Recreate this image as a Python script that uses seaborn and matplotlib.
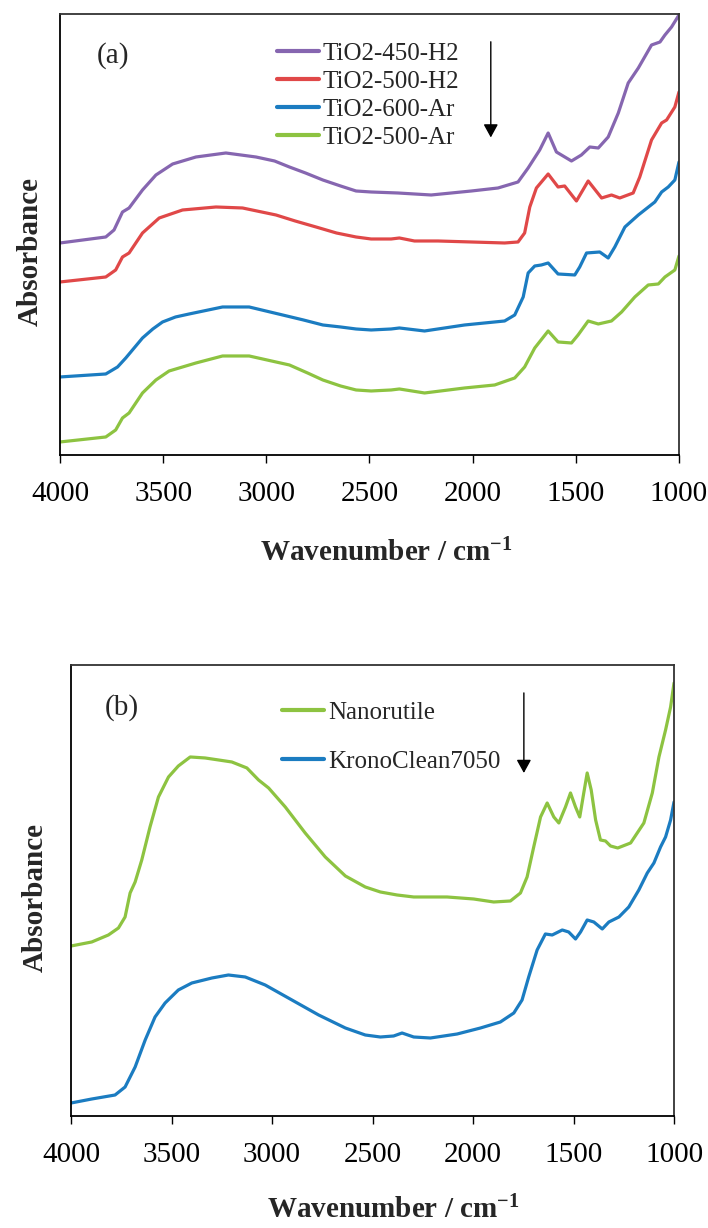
import matplotlib
matplotlib.use("Agg")
import matplotlib.pyplot as plt
import numpy as np
import pandas as pd
import seaborn as sns

# ---------------- panel (a): TiO2 samples ----------------
wn_450_h2 = [4000, 3778, 3738, 3697, 3665, 3600, 3535, 3454, 3341, 3196, 3050, 2960, 2888,
             2810, 2726, 2640, 2565, 2492, 2362, 2201, 2006, 1877, 1780, 1731, 1675, 1634,
             1594, 1521, 1473, 1432, 1391, 1343, 1294, 1246, 1197, 1133, 1092, 1068, 1036,
             1000]
abs_450_h2 = [2.12, 2.18, 2.25, 2.43, 2.47, 2.65, 2.80, 2.91, 2.98, 3.02, 2.98, 2.94, 2.88,
              2.82, 2.75, 2.69, 2.64, 2.63, 2.62, 2.60, 2.64, 2.67, 2.73, 2.87, 3.05, 3.22,
              3.03, 2.94, 3.00, 3.08, 3.07, 3.18, 3.42, 3.72, 3.87, 4.10, 4.13, 4.20, 4.28,
              4.40]

wn_500_h2 = [4000, 3778, 3730, 3697, 3665, 3600, 3519, 3406, 3244, 3115, 2953, 2860, 2759,
             2660, 2565, 2492, 2395, 2355, 2282, 2168, 2006, 1845, 1780, 1748, 1723, 1691,
             1634, 1586, 1554, 1497, 1440, 1375, 1327, 1287, 1222, 1190, 1133, 1084, 1060,
             1020, 1000]
abs_500_h2 = [1.73, 1.78, 1.85, 1.98, 2.02, 2.22, 2.37, 2.45, 2.48, 2.47, 2.40, 2.34, 2.28,
              2.22, 2.18, 2.16, 2.16, 2.17, 2.14, 2.14, 2.13, 2.12, 2.13, 2.22, 2.48, 2.67,
              2.81, 2.68, 2.69, 2.54, 2.74, 2.57, 2.60, 2.57, 2.62, 2.78, 3.15, 3.32, 3.35,
              3.48, 3.63]

wn_600_ar = [4000, 3778, 3721, 3681, 3600, 3550, 3503, 3440, 3374, 3212, 3083, 2921, 2820,
             2726, 2640, 2565, 2492, 2395, 2355, 2233, 2039, 1845, 1796, 1755, 1731, 1699,
             1667, 1634, 1586, 1505, 1481, 1448, 1384, 1343, 1311, 1262, 1197, 1117, 1084,
             1052, 1020, 1000]
abs_600_ar = [0.78, 0.81, 0.88, 0.97, 1.17, 1.26, 1.33, 1.38, 1.41, 1.48, 1.48, 1.40, 1.35,
              1.30, 1.28, 1.26, 1.25, 1.26, 1.27, 1.24, 1.30, 1.34, 1.40, 1.58, 1.82, 1.89,
              1.90, 1.92, 1.81, 1.80, 1.88, 2.02, 2.03, 1.97, 2.08, 2.28, 2.40, 2.53, 2.63,
              2.68, 2.75, 2.93]

wn_500_ar = [4000, 3778, 3730, 3697, 3665, 3600, 3535, 3471, 3341, 3212, 3083, 2888, 2800,
             2726, 2640, 2565, 2492, 2395, 2355, 2233, 2039, 1893, 1796, 1748, 1699, 1634,
             1586, 1521, 1489, 1440, 1391, 1327, 1278, 1214, 1149, 1100, 1068, 1020, 1000]
abs_500_ar = [0.13, 0.18, 0.25, 0.37, 0.42, 0.62, 0.75, 0.84, 0.92, 0.99, 0.99, 0.90, 0.82,
              0.75, 0.69, 0.65, 0.64, 0.65, 0.66, 0.62, 0.67, 0.70, 0.77, 0.88, 1.07, 1.24,
              1.13, 1.12, 1.20, 1.34, 1.31, 1.34, 1.43, 1.58, 1.70, 1.71, 1.78, 1.85, 1.99]

labels_a = ["TiO2-450-H2", "TiO2-500-H2", "TiO2-600-Ar", "TiO2-500-Ar"]
colors_a = ["#8666B0", "#E04848", "#1B7CC1", "#8DC341"]

# ---------------- panel (b): commercial powders ----------------
wn_nanorutile = [4000, 3897, 3814, 3764, 3731, 3706, 3681, 3648, 3607, 3565, 3515, 3466, 3407,
                 3333, 3266, 3200, 3125, 3067, 3017, 2934, 2835, 2735, 2635, 2536, 2461, 2378,
                 2295, 2129, 1997, 1897, 1814, 1764, 1731, 1698, 1664, 1631, 1598, 1573, 1540,
                 1515, 1490, 1469, 1449, 1432, 1412, 1390, 1366, 1341, 1316, 1280, 1216, 1150,
                 1108, 1075, 1042, 1017, 1000]
abs_nanorutile = [1.70, 1.74, 1.81, 1.88, 1.99, 2.23, 2.34, 2.56, 2.89, 3.19, 3.39, 3.50, 3.59,
                  3.58, 3.56, 3.54, 3.48, 3.36, 3.28, 3.09, 2.83, 2.59, 2.40, 2.29, 2.24, 2.21,
                  2.19, 2.19, 2.17, 2.14, 2.15, 2.23, 2.39, 2.69, 2.99, 3.13, 2.99, 2.93, 3.09,
                  3.23, 3.09, 2.99, 3.23, 3.43, 3.26, 2.96, 2.76, 2.75, 2.70, 2.68, 2.73, 2.93,
                  3.23, 3.59, 3.86, 4.09, 4.33]

wn_krono = [4000, 3897, 3781, 3731, 3681, 3631, 3582, 3532, 3466, 3399, 3299, 3217, 3133,
            3034, 2901, 2768, 2635, 2536, 2461, 2395, 2353, 2295, 2212, 2079, 1963, 1864,
            1797, 1756, 1723, 1681, 1640, 1606, 1556, 1524, 1490, 1465, 1432, 1399, 1357,
            1324, 1274, 1225, 1175, 1133, 1100, 1067, 1042, 1017, 1000]
abs_krono = [0.13, 0.17, 0.21, 0.29, 0.49, 0.76, 0.99, 1.13, 1.26, 1.33, 1.38, 1.41, 1.39,
             1.31, 1.16, 1.01, 0.88, 0.81, 0.79, 0.80, 0.83, 0.79, 0.78, 0.82, 0.88, 0.94,
             1.03, 1.16, 1.39, 1.66, 1.82, 1.81, 1.86, 1.84, 1.77, 1.84, 1.96, 1.94, 1.87,
             1.94, 1.99, 2.09, 2.26, 2.43, 2.53, 2.69, 2.79, 2.96, 3.14]

labels_b = ["Nanorutile", "KronoClean7050"]
colors_b = ["#8DC341", "#1B7CC1"]

x_ticks = [4000, 3500, 3000, 2500, 2000, 1500, 1000]


def long_form(wns, vals, names):
    frames = []
    for w, v, n in zip(wns, vals, names):
        frames.append(pd.DataFrame({"wavenumber": w, "absorbance": v, "sample": n}))
    return pd.concat(frames, ignore_index=True)


df_a = long_form([wn_450_h2, wn_500_h2, wn_600_ar, wn_500_ar],
                 [abs_450_h2, abs_500_h2, abs_600_ar, abs_500_ar], labels_a)
df_b = long_form([wn_nanorutile, wn_krono], [abs_nanorutile, abs_krono], labels_b)

sns.set_theme(style="white")
plt.rcParams["font.family"] = ["Liberation Serif", "DejaVu Serif"]
plt.rcParams["mathtext.fontset"] = "custom"
plt.rcParams["mathtext.rm"] = "Liberation Serif"
plt.rcParams["mathtext.bf"] = "Liberation Serif:bold"
plt.rcParams["mathtext.it"] = "Liberation Serif:italic"

fig = plt.figure(figsize=(7.08, 12.28), dpi=100)
ax_a = fig.add_axes([0.0847, 0.6295, 0.8743, 0.3591])
ax_b = fig.add_axes([0.1003, 0.0912, 0.8517, 0.3673])

panels = [
    (ax_a, df_a, labels_a, colors_a, 4.41, "(a)", (0.0856, 0.905),
     (0.3506, 0.9365), 0.22, (0.696, 0.937, 0.720)),
    (ax_b, df_b, labels_b, colors_b, 4.51, "(b)", (0.0845, 0.9047),
     (0.350, 0.919), 1.06, (0.751, 0.938, 0.7605)),
]

for ax, df, labels, colors, ytop, tag, tag_pos, leg_pos, leg_space, arrow in panels:
    sns.lineplot(data=df, x="wavenumber", y="absorbance", hue="sample",
                 hue_order=labels, palette=colors, estimator=None, sort=False,
                 linewidth=2.3, ax=ax)
    ax.set_xlim(4000, 1000)
    ax.set_ylim(0, ytop)
    ax.set_xticks(x_ticks)
    ax.set_xticklabels([str(t) for t in x_ticks])
    ax.set_yticks([])
    ax.set_xlabel("")
    ax.set_ylabel("")
    ax.tick_params(axis="x", direction="out", length=6, width=1.0, pad=12.5,
                   labelsize=21, colors="black", bottom=True)
    for side, sp in ax.spines.items():
        sp.set_visible(True)
        sp.set_color("black" if side in ("left", "bottom") else "#333333")
        sp.set_linewidth(1.3)

    handles, labs = ax.get_legend_handles_labels()
    leg = ax.legend(handles, labs, loc="upper left", bbox_to_anchor=leg_pos,
                    frameon=False, fontsize=18, handlelength=1.68, handletextpad=0.15,
                    labelspacing=leg_space, borderpad=0, borderaxespad=0)
    for ln in leg.get_lines():
        ln.set_linewidth(3.0)

    ax.text(tag_pos[0], tag_pos[1], tag, transform=ax.transAxes, fontsize=21,
            ha="center", va="center")

    ax.annotate("", xy=(arrow[0], arrow[2]), xytext=(arrow[0], arrow[1]),
                xycoords="axes fraction", textcoords="axes fraction",
                arrowprops=dict(arrowstyle="-|>,head_length=0.4,head_width=0.22",
                                mutation_scale=20, lw=1.0, color="black",
                                shrinkA=0, shrinkB=0))

# axis titles
fig.text(0.0424, 0.7956, "Absorbance", rotation=90, fontsize=21, fontweight="bold",
         ha="center", va="center")
fig.text(0.0494, 0.2695, "Absorbance", rotation=90, fontsize=21, fontweight="bold",
         ha="center", va="center")
xlab = r"Wavenumber / cm$^{\mathbf{-1}}$"
fig.text(0.545, 0.5432, xlab, fontsize=21, fontweight="bold", ha="center", va="baseline")
fig.text(0.555, 0.0075, xlab, fontsize=21, fontweight="bold", ha="center", va="baseline")

fig.savefig("out.png", dpi=100, facecolor="white")
